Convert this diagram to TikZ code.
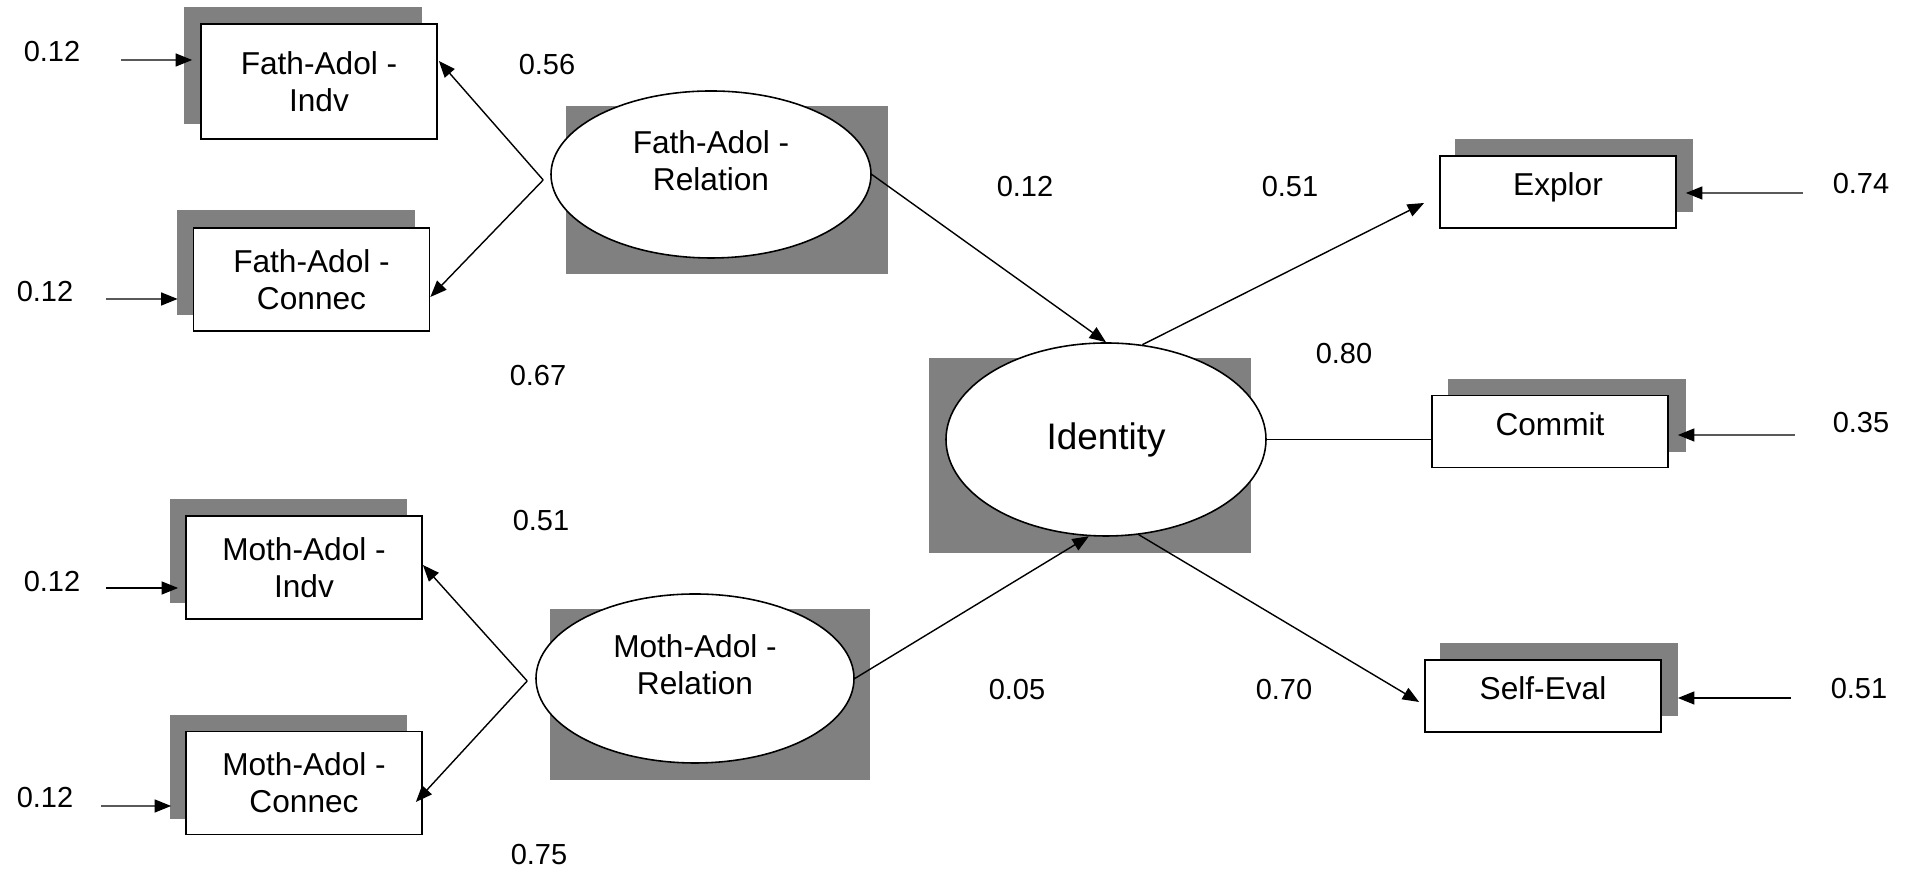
\documentclass[tikz,border=0pt]{standalone}
\usepackage{fontspec}
\setmainfont{Liberation Sans}
\usepackage{xcolor}
\definecolor{shadowgray}{RGB}{128,128,128}
\usepackage{tikz}
\usetikzlibrary{
    shapes.geometric,
    arrows.meta,
    positioning,
    calc,
    backgrounds
}

\begin{document}
\begin{tikzpicture}[
        obs/.style={rectangle, draw=black, fill=white, line width=1pt, minimum width=4.72cm, minimum height=2.06cm, inner sep=0pt, align=center, font=\fontsize{18}{21}\selectfont},
        ind/.style={obs, minimum height=1.44cm, text height=0.47cm, text depth=0.31cm},
        latent/.style={ellipse, draw=black, fill=white, line width=0.9pt, minimum width=6.4cm, minimum height=3.34cm, inner sep=0pt},
        lbl/.style={align=center, inner sep=0pt, font=\fontsize{18}{21}\selectfont, yshift=0.28cm},
        coef/.style={inner sep=0pt, font=\fontsize{16.5}{19}\selectfont},
        arr/.style={-{Triangle[length=0.33cm, width=0.26cm]}, line width=0.8pt},
        link/.style={line width=0.8pt}
    ]
        \useasboundingbox (0,0) rectangle (38.32,17.42);

        % measured variables
        \node[obs, minimum height=2.30cm] (fi) at (6.38,15.79) {Fath-Adol -\\Indv};
        \node[obs] (fc) at (6.23,11.83) {Fath-Adol -\\Connec};
        \node[obs] (mi) at (6.08,6.07) {Moth-Adol -\\Indv};
        \node[obs] (mc) at (6.08,1.76) {Moth-Adol -\\Connec};
        \node[ind] (ex) at (31.16,13.58) {Explor};
        \node[ind] (com) at (31.00,8.79) {Commit};
        \node[ind] (se) at (30.86,3.50) {Self-Eval};

        % latent variables
        \node[latent, label={[lbl]center:Fath-Adol -\\Relation}] (fr) at (14.22,13.93) {};
        \node[latent, minimum width=6.36cm, minimum height=3.38cm, label={[lbl]center:Moth-Adol -\\Relation}] (mr) at (13.90,3.85) {};
        \node[latent, minimum height=3.86cm, font=\fontsize{21}{25}\selectfont] (id) at (22.12,8.63) {Identity};

        \begin{scope}[on background layer]
            \foreach \n/\dx/\dy in {fi/-0.32/0.32, fc/-0.31/0.34, mi/-0.31/0.33, mc/-0.31/0.32,
                                    ex/0.32/0.33, com/0.34/0.32, se/0.32/0.33,
                                    fr/0.32/-0.31, mr/0.30/-0.32, id/-0.32/-0.32} {
                \fill[shadowgray] ($(\n.west |- \n.south)+(\dx,\dy)$) rectangle ($(\n.east |- \n.north)+(\dx,\dy)$);
            }
        \end{scope}

        % error terms
        \node[coef] (efi) at (1.04,16.38) {0.12};
        \node[coef] (efc) at (0.90,11.58) {0.12};
        \node[coef] (emi) at (1.04,5.78) {0.12};
        \node[coef] (emc) at (0.90,1.46) {0.12};
        \node[coef] (eex) at (37.22,13.74) {0.74};
        \node[coef] (ecom) at (37.22,8.96) {0.35};
        \node[coef] (ese) at (37.18,3.64) {0.51};

        \draw[arr] ($(efi.east)+(0.81,-0.16)$) -- ($(fi.west)+(-0.16,0.43)$);
        \draw[arr] ($(efc.east)+(0.65,-0.14)$) -- ($(fc.west)+(-0.30,-0.39)$);
        \draw[arr] ($(emi.east)+(0.51,-0.12)$) -- ($(mi.west)+(-0.14,-0.41)$);
        \draw[arr] ($(emc.east)+(0.55,-0.16)$) -- ($(mc.west)+(-0.28,-0.46)$);
        \draw[arr] ($(eex.west)+(-0.59,-0.18)$) -- ($(ex.east)+(0.18,-0.02)$);
        \draw[arr] ($(ecom.west)+(-0.75,-0.24)$) -- ($(com.east)+(0.18,-0.07)$);
        \draw[arr] ($(ese.west)+(-0.79,-0.18)$) -- ($(se.east)+(0.32,-0.04)$);

        % loadings and paths
        \coordinate (fv) at ($(fr.west)+(-0.14,-0.11)$);
        \coordinate (mv) at ($(mr.west)+(-0.16,-0.05)$);
        \draw[arr] (fv) -- ($(fi.east)+(0.02,0.41)$);
        \draw[arr] (fv) -- ($(fc.east)+(0,-0.35)$);
        \draw[arr] (mv) -- ($(mi.east)+(0,0.05)$);
        \draw[arr] (mv) -- ($(mc.east)+(-0.14,-0.38)$);
        \draw[arr] (fr.east) -- (id.north);
        \draw[arr] (mr.east) -- (id.-100);
        \draw[arr] (id.69) -- ($(ex.west)+(-0.30,-0.22)$);
        \draw[link] (id.east) -- (id.east -| com.west);
        \draw[arr] (id.-71) -- ($(se.west)+(-0.10,-0.12)$);

        \node[coef] (w056) at (10.94,16.12) {0.56};
        \node[coef] (w067) at (10.76,9.90) {0.67};
        \node[coef] (w051) at (10.82,7.00) {0.51};
        \node[coef] (w075) at (10.78,0.32) {0.75};
        \node[coef] (b012) at (20.50,13.68) {0.12};
        \node[coef] (b005) at (20.34,3.62) {0.05};
        \node[coef] (l051) at (25.80,13.68) {0.51};
        \node[coef] (l080) at (26.88,10.34) {0.80};
        \node[coef] (l070) at (25.68,3.62) {0.70};
    \end{tikzpicture}
\end{document}
